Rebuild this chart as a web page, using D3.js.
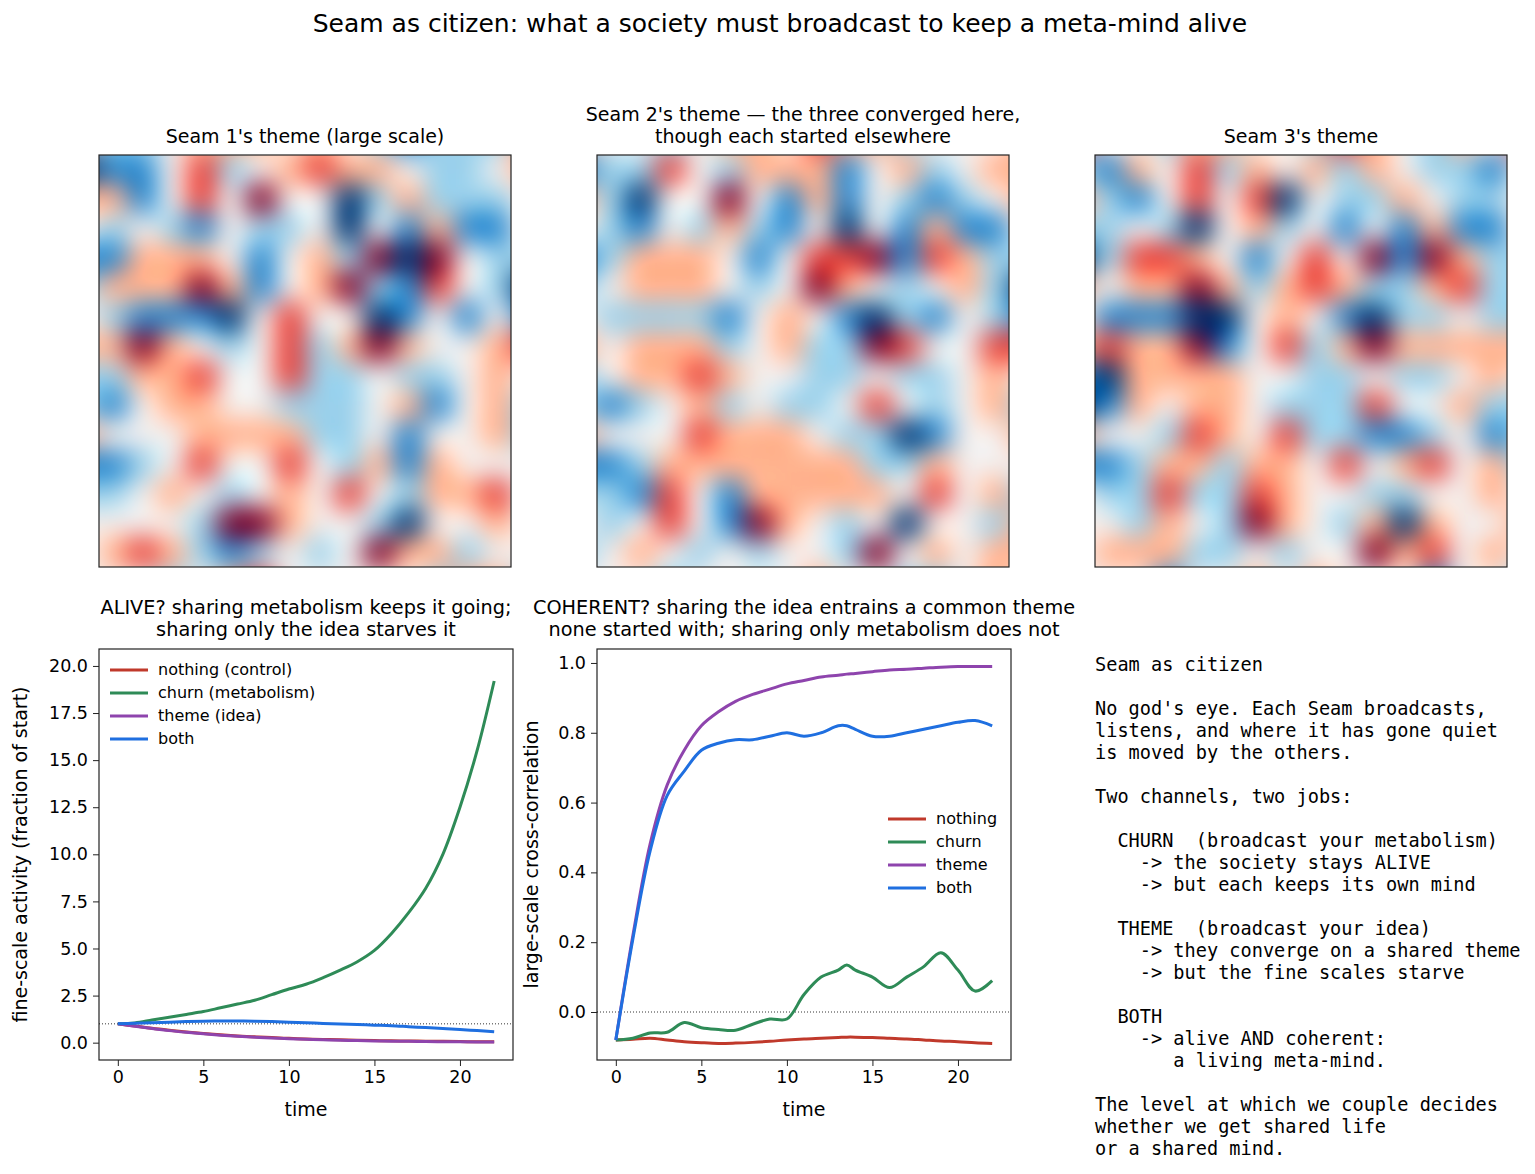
<!DOCTYPE html>
<html>
<head>
<meta charset="utf-8">
<script src="https://cdn.jsdelivr.net/npm/d3@7"></script>
<style>
  body { margin: 0; background: #fff; }
  svg { font-family: "DejaVu Sans", sans-serif; }
</style>
</head>
<body>
<div id="chart"></div>
<script>
// heatmap grids (16 x 16, rows from top)
const THEME_1 = [
  [1,-1,-1,0,1,1,1,0,1,0,-1,-2,-1,-1,-1,1],
  [-3,-2,-2,0,2,-1,0,1,2,1,1,0,-1,-1,0,1],
  [1,1,-2,0,2,0,3,0,0,-3,-1,1,-1,-1,-1,0],
  [0,-1,0,-1,-2,0,-1,-1,0,-3,0,-2,1,-2,-2,0],
  [-2,-2,1,1,1,0,-2,0,1,-1,3,-3,3,0,-1,-1],
  [-1,1,1,1,3,1,-2,0,1,3,-1,-2,2,0,-1,-3],
  [0,-1,-2,-2,-2,-3,0,2,0,0,-3,-2,0,-2,0,-2],
  [1,1,3,1,0,-1,0,2,-1,1,3,1,0,0,1,2],
  [-1,-1,1,1,2,0,0,2,-1,-1,0,-1,-1,0,1,0],
  [-1,-2,0,1,1,0,0,-1,-1,-1,0,1,-2,0,1,-1],
  [1,0,0,0,1,1,1,1,-1,-1,0,-2,0,0,1,-1],
  [-2,-2,-1,0,2,0,0,2,0,-1,1,-2,1,0,0,0],
  [-1,-1,0,1,0,-1,0,1,0,2,0,-1,1,1,2,0],
  [0,0,0,0,-1,3,3,1,0,0,-1,-3,0,0,1,0],
  [0,1,2,1,-1,-2,-1,0,-1,0,3,1,1,-1,0,0],
  [0,0,0,-1,0,1,2,0,0,0,0,0,-1,1,1,-1]
];
const THEME_2 = [
  [1,0,0,-1,0,1,1,0,2,1,1,-1,0,0,0,1],
  [-2,-1,-1,2,0,-1,1,1,1,-2,0,1,-1,0,1,1],
  [1,-1,-3,0,0,3,0,-2,1,-2,0,-1,-2,-1,0,1],
  [0,-1,-2,0,-1,1,-1,-2,0,-3,0,-2,1,-2,-2,0],
  [-2,-1,1,1,1,0,-2,0,2,2,3,-2,2,1,-1,-1],
  [-1,0,1,1,1,0,-1,0,3,1,0,-1,0,1,-1,-3],
  [0,-1,-1,-1,-1,-2,0,1,0,-2,-3,-1,-2,0,-1,-2],
  [1,0,1,1,1,-1,0,1,-1,-1,3,2,0,0,2,2],
  [-1,0,1,1,2,1,0,0,-1,-1,0,-1,-1,0,1,0],
  [-1,-2,-1,0,1,-1,0,-1,-1,0,2,0,-1,0,1,-1],
  [1,0,0,0,2,1,1,1,0,-1,-1,-3,-2,0,0,1],
  [-2,-2,-1,1,1,1,1,1,1,1,-1,-1,1,0,0,0],
  [-1,-1,-2,2,0,-2,1,1,1,1,1,0,2,0,1,-1],
  [0,-1,0,2,0,-2,3,1,0,-1,0,-3,0,0,-1,1],
  [-1,0,1,0,-1,0,-1,0,0,-1,3,0,1,0,1,1],
  [0,0,0,-1,0,0,0,0,1,0,0,-1,-1,0,1,0]
];
const THEME_3 = [
  [2,0,0,-1,1,1,0,0,-1,2,1,0,-1,1,0,2],
  [-1,-2,1,0,2,-1,1,0,1,-1,1,0,-1,-1,-2,0],
  [1,-1,-2,0,2,0,2,-3,0,-1,-1,1,0,-1,-1,0],
  [-1,-1,0,-1,-3,0,1,-1,0,-2,0,-2,1,-2,-2,0],
  [-3,-1,2,2,1,0,-2,0,2,0,3,-2,3,1,-1,-1],
  [1,0,1,1,3,1,-1,1,2,1,-1,-1,1,2,-1,-1],
  [0,-2,-2,-2,-3,-3,0,1,0,-2,-3,-1,-1,0,-1,-1],
  [1,2,1,1,3,-2,0,2,-1,1,3,1,1,1,1,1],
  [-2,-3,1,1,1,1,0,0,-1,-1,0,-1,-1,0,1,0],
  [-3,-2,1,0,1,1,0,-1,-1,-1,2,0,0,1,-1,-1],
  [1,0,0,-1,2,1,0,2,-1,-1,-2,-2,-1,0,-2,-1],
  [-2,-2,-1,1,1,-1,1,1,0,2,0,1,2,0,1,-1],
  [0,-1,-1,2,-1,-1,2,1,0,0,-1,-1,0,0,1,0],
  [0,0,-1,1,0,-1,3,1,0,-1,1,-3,1,0,0,1],
  [0,1,1,1,-1,-1,0,-1,0,0,3,1,2,0,1,0],
  [0,0,0,-2,0,0,1,0,1,0,0,0,-2,0,0,-1]
];
const HEAT_TITLES = [["Seam 1's theme (large scale)"],
                     ["Seam 2's theme  \u2014 the three converged here,", "though each started elsewhere"],
                     ["Seam 3's theme"]];

// activity panel
const T_ACT = [0,1,2,3,4,5,6,7,8,9,10,11,12,13,14,15,16,17,18,19,20,21,22];
const ACT_NOTHING = [1,0.88,0.76,0.66,0.57,0.49,0.42,0.36,0.31,0.27,0.23,0.2,0.17,0.15,0.13,0.11,0.1,0.09,0.08,0.07,0.06,0.05,0.05];
const ACT_CHURN = [1,1.05,1.2,1.35,1.5,1.65,1.85,2.05,2.25,2.55,2.85,3.1,3.45,3.85,4.3,4.9,5.8,6.9,8.2,10.0,12.5,15.5,19.2];
const ACT_THEME = [1,0.87,0.75,0.64,0.55,0.47,0.4,0.34,0.29,0.25,0.21,0.18,0.15,0.13,0.11,0.09,0.08,0.07,0.06,0.05,0.05,0.04,0.04];
const ACT_BOTH = [1,1.03,1.06,1.09,1.12,1.14,1.15,1.15,1.14,1.12,1.09,1.06,1.02,0.99,0.96,0.93,0.9,0.85,0.8,0.75,0.7,0.64,0.58];

// coherence panel
const T_COH = [0,1,2,3,4,5,6,7,8,9,10,11,12,13,13.5,14,15,16,17,18,19,20,21,22];
const COH_NOTHING = [-0.08,-0.078,-0.075,-0.08,-0.085,-0.088,-0.09,-0.089,-0.087,-0.084,-0.08,-0.077,-0.075,-0.073,-0.072,-0.072,-0.073,-0.075,-0.077,-0.08,-0.083,-0.085,-0.088,-0.09];
const COH_CHURN = [-0.08,-0.075,-0.06,-0.058,-0.03,-0.045,-0.05,-0.052,-0.035,-0.02,-0.02,0.05,0.1,0.12,0.135,0.12,0.1,0.07,0.1,0.13,0.17,0.12,0.06,0.09];
const COH_THEME = [-0.08,0.22,0.48,0.65,0.75,0.82,0.86,0.89,0.91,0.925,0.94,0.95,0.96,0.965,0.968,0.97,0.975,0.98,0.982,0.985,0.988,0.99,0.99,0.99];
const COH_BOTH = [-0.08,0.21,0.46,0.62,0.69,0.75,0.77,0.78,0.78,0.79,0.80,0.79,0.80,0.82,0.82,0.81,0.79,0.79,0.80,0.81,0.82,0.83,0.835,0.82];

const COLORS = {nothing: "#c0392b", churn: "#2e8b57", theme: "#8e44ad", both: "#1f6fe0"};
const ACT_LABELS = ["nothing (control)", "churn (metabolism)", "theme (idea)", "both"];
const COH_LABELS = ["nothing", "churn", "theme", "both"];

const NOTES = ["Seam as citizen", "", "No god's eye. Each Seam broadcasts,", "listens, and where it has gone quiet",
  "is moved by the others.", "", "Two channels, two jobs:", "", "  CHURN  (broadcast your metabolism)",
  "    -> the society stays ALIVE", "    -> but each keeps its own mind", "", "  THEME  (broadcast your idea)",
  "    -> they converge on a shared theme", "    -> but the fine scales starve", "", "  BOTH",
  "    -> alive AND coherent:", "       a living meta-mind.", "", "The level at which we couple decides",
  "whether we get shared life", "or a shared mind."];

const W = 1535, H = 1174;
const svg = d3.select("#chart").append("svg").attr("width", W).attr("height", H);

svg.append("text").attr("x", 780).attr("y", 32).attr("text-anchor", "middle")
   .attr("font-size", "25px").text("Seam as citizen: what a society must broadcast to keep a meta-mind alive");

// heatmaps
const color = d3.scaleSequential(d3.interpolateRdBu).domain([3, -3]);
const HEAT_X = [99, 597, 1095], HEAT_Y = 155, HEAT_S = 412;
[THEME_1, THEME_2, THEME_3].forEach((grid, k) => {
  const n = grid.length;
  const cv = document.createElement("canvas");
  cv.width = n; cv.height = n;
  const ctx = cv.getContext("2d");
  grid.forEach((row, r) => row.forEach((v, c) => {
    ctx.fillStyle = color(v);
    ctx.fillRect(c, r, 1, 1);
  }));
  // smooth upscale in steps, then a light blur
  let src = cv, size = n;
  while (size < 256) {
    const nx = document.createElement("canvas");
    nx.width = size * 2; nx.height = size * 2;
    const c2 = nx.getContext("2d");
    c2.imageSmoothingEnabled = true;
    c2.imageSmoothingQuality = "high";
    c2.drawImage(src, 0, 0, size * 2, size * 2);
    src = nx; size *= 2;
  }
  const P = 30;
  const big = document.createElement("canvas");
  big.width = HEAT_S; big.height = HEAT_S;
  const bctx = big.getContext("2d");
  bctx.imageSmoothingEnabled = true;
  bctx.filter = "blur(6px) saturate(1.3)";
  bctx.drawImage(src, -P, -P, HEAT_S + 2 * P, HEAT_S + 2 * P);
  svg.append("image").attr("x", HEAT_X[k]).attr("y", HEAT_Y)
     .attr("width", HEAT_S).attr("height", HEAT_S)
     .attr("preserveAspectRatio", "none")
     .attr("href", big.toDataURL());
  svg.append("rect").attr("x", HEAT_X[k]).attr("y", HEAT_Y).attr("width", HEAT_S).attr("height", HEAT_S)
     .attr("fill", "none").attr("stroke", "#222").attr("stroke-width", 1.2);
  const lines = HEAT_TITLES[k];
  lines.forEach((t, i) => {
    svg.append("text").attr("x", HEAT_X[k] + HEAT_S / 2).attr("y", 143 - (lines.length - 1 - i) * 22)
       .attr("text-anchor", "middle").attr("font-size", "19px").text(t);
  });
});

// line panels
function linePanel(x0, yDomain, yTicks, tVals, series, labels, title, ylabel, legendPos, refY, yOff) {
  const left = x0, top = 649, w = 414, h = 411;
  const X = d3.scaleLinear().domain([-1.1, 23.1]).range([left, left + w]);
  const Y = d3.scaleLinear().domain(yDomain).range([top + h, top]);
  const g = svg.append("g");

  g.append("g").attr("transform", "translate(0," + (top + h) + ")")
   .call(d3.axisBottom(X).tickValues([0, 5, 10, 15, 20]).tickFormat(d3.format("d")).tickSize(6).tickPadding(5))
   .attr("font-size", "17.5px").attr("font-family", "DejaVu Sans");
  g.append("g").attr("transform", "translate(" + left + ",0)")
   .call(d3.axisLeft(Y).tickValues(yTicks).tickFormat(d3.format(".1f")).tickSize(6).tickPadding(5))
   .attr("font-size", "17.5px").attr("font-family", "DejaVu Sans");
  g.selectAll(".domain").remove();
  g.selectAll(".tick line").attr("stroke", "#222");
  g.append("rect").attr("x", left).attr("y", top).attr("width", w).attr("height", h)
   .attr("fill", "none").attr("stroke", "#222").attr("stroke-width", 1.2);

  g.append("line").attr("x1", left).attr("x2", left + w).attr("y1", Y(refY)).attr("y2", Y(refY))
   .attr("stroke", "#000").attr("stroke-width", 0.8).attr("stroke-dasharray", "1,2");

  const line = d3.line().x((d, i) => X(tVals[i])).y(d => Y(d)).curve(d3.curveCatmullRom);
  const keys = ["nothing", "churn", "theme", "both"];
  keys.forEach((k, i) => {
    g.append("path").datum(series[i]).attr("d", line)
     .attr("fill", "none").attr("stroke", COLORS[k]).attr("stroke-width", 3);
  });

  // legend
  keys.forEach((k, i) => {
    const ly = legendPos[1] + i * 23;
    g.append("line").attr("x1", legendPos[0]).attr("x2", legendPos[0] + 38).attr("y1", ly).attr("y2", ly)
     .attr("stroke", COLORS[k]).attr("stroke-width", 3);
    g.append("text").attr("x", legendPos[0] + 48).attr("y", ly + 5).attr("font-size", "16px").text(labels[i]);
  });

  title.forEach((t, i) => {
    g.append("text").attr("x", left + w / 2).attr("y", 614 + i * 22).attr("text-anchor", "middle")
     .attr("font-size", "19.3px").text(t);
  });
  g.append("text").attr("x", left + w / 2).attr("y", 1116).attr("text-anchor", "middle")
   .attr("font-size", "19px").text("time");
  g.append("text").attr("transform", "translate(" + (left - yOff) + "," + (top + h / 2) + ") rotate(-90)")
   .attr("text-anchor", "middle").attr("font-size", "19px").text(ylabel);
}

linePanel(99, [-0.92, 20.9], [0, 2.5, 5, 7.5, 10, 12.5, 15, 17.5, 20], T_ACT,
  [ACT_NOTHING, ACT_CHURN, ACT_THEME, ACT_BOTH], ACT_LABELS,
  ["ALIVE? sharing metabolism keeps it going;", "sharing only the idea starves it"],
  "fine-scale activity  (fraction of start)", [110, 670], 1, 72);

linePanel(597, [-0.1375, 1.04], [0, 0.2, 0.4, 0.6, 0.8, 1.0], T_COH,
  [COH_NOTHING, COH_CHURN, COH_THEME, COH_BOTH], COH_LABELS,
  ["COHERENT? sharing the idea entrains a common theme", "none started with; sharing only metabolism does not"],
  "large-scale cross-correlation", [888, 819], 0, 59);

// notes panel
svg.append("g").selectAll("text").data(NOTES).enter().append("text")
   .attr("x", 1095).attr("y", (d, i) => 671 + i * 22)
   .attr("font-family", "DejaVu Sans Mono, monospace").attr("font-size", "18.6px")
   .attr("xml:space", "preserve").style("white-space", "pre")
   .text(d => d);
</script>
</body>
</html>
